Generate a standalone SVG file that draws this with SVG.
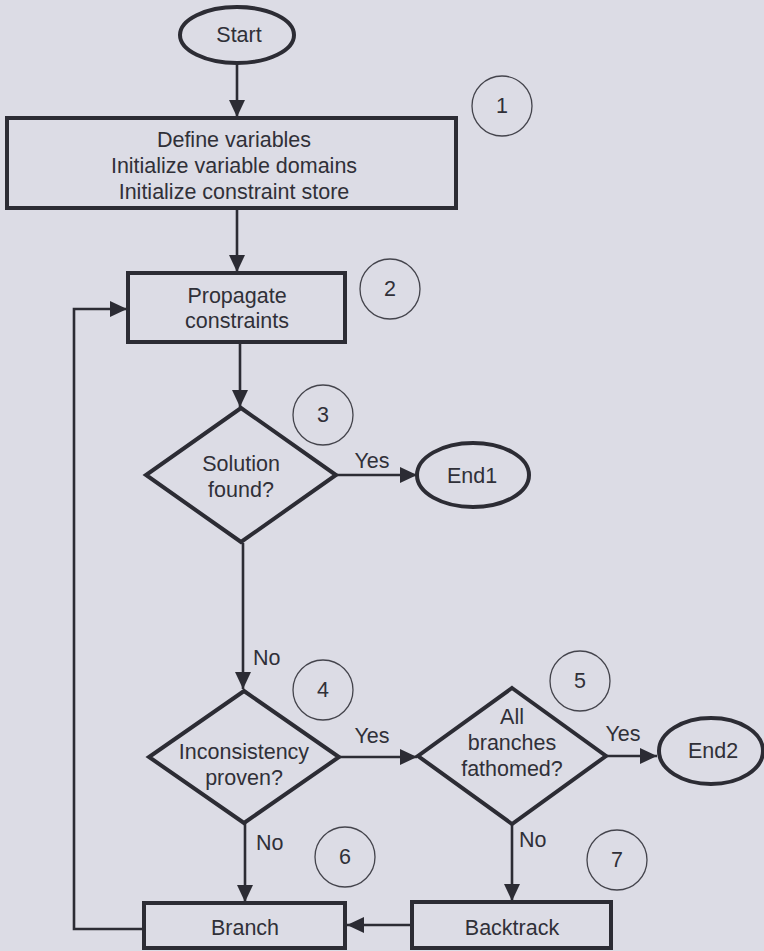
<svg xmlns="http://www.w3.org/2000/svg" width="764" height="951" viewBox="0 0 764 951">
<style>
.bg{fill:#dcdce5}
.n{fill:none;stroke:#2c2c34;stroke-width:4}
.c{fill:none;stroke:#2c2c34;stroke-width:2.6}
.ci{fill:none;stroke:#44444c;stroke-width:1.3}
text{font-family:"Liberation Sans",Arial,sans-serif;font-size:21.5px;fill:#303038;text-anchor:middle}
.l{text-anchor:start}
</style>
<defs>
<marker id="ah" markerUnits="userSpaceOnUse" markerWidth="18" markerHeight="18" refX="17" refY="8" orient="auto">
<path d="M0,0 L17,8 L0,16 Z" fill="#2c2c34"/>
</marker>
</defs>
<rect class="bg" x="0" y="0" width="764" height="951"/>
<g id="connectors">
<line class="c" x1="237" y1="63" x2="237" y2="117" marker-end="url(#ah)"/>
<line class="c" x1="237" y1="209" x2="237" y2="272" marker-end="url(#ah)"/>
<line class="c" x1="240" y1="343" x2="240" y2="407" marker-end="url(#ah)"/>
<line class="c" x1="336" y1="475" x2="417" y2="475" marker-end="url(#ah)"/>
<line class="c" x1="243" y1="543" x2="243" y2="689" marker-end="url(#ah)"/>
<line class="c" x1="339" y1="757" x2="417" y2="757" marker-end="url(#ah)"/>
<line class="c" x1="605" y1="756" x2="657" y2="756" marker-end="url(#ah)"/>
<line class="c" x1="245" y1="823" x2="245" y2="902" marker-end="url(#ah)"/>
<line class="c" x1="512" y1="824" x2="512" y2="901" marker-end="url(#ah)"/>
<line class="c" x1="412" y1="925" x2="347" y2="925" marker-end="url(#ah)"/>
<polyline class="c" points="144,929 74,929 74,309 127,309" marker-end="url(#ah)"/>
<text x="372" y="468">Yes</text>
<text class="l" x="253" y="665">No</text>
<text x="372" y="743">Yes</text>
<text x="623" y="741">Yes</text>
<text class="l" x="256" y="850">No</text>
<text class="l" x="519" y="847">No</text>
</g>
<g id="start">
<ellipse class="n" cx="237" cy="35" rx="57" ry="28"/>
<text x="239" y="42">Start</text>
</g>
<g id="init">
<rect class="n" x="7" y="118" width="449" height="90"/>
<text x="234" y="147">Define variables</text>
<text x="234" y="173">Initialize variable domains</text>
<text x="234" y="199">Initialize constraint store</text>
</g>
<g id="propagate">
<rect class="n" x="128" y="273" width="217" height="69"/>
<text x="237" y="303">Propagate</text>
<text x="237" y="328">constraints</text>
</g>
<g id="solution">
<polygon class="n" points="241,408 336,475 241,542 146,475"/>
<text x="241" y="471">Solution</text>
<text x="241" y="497">found?</text>
</g>
<g id="end1">
<ellipse class="n" cx="473" cy="475" rx="56" ry="32"/>
<text x="472" y="483">End1</text>
</g>
<g id="inconsistency">
<polygon class="n" points="244,691 339,757 244,823 149,757"/>
<text x="244" y="759">Inconsistency</text>
<text x="244" y="785">proven?</text>
</g>
<g id="fathomed">
<polygon class="n" points="512,688 606,756 512,824 418,756"/>
<text x="512" y="724">All</text>
<text x="512" y="750">branches</text>
<text x="512" y="776">fathomed?</text>
</g>
<g id="end2">
<ellipse class="n" cx="711" cy="751" rx="52" ry="33"/>
<text x="713" y="758">End2</text>
</g>
<g id="branch">
<rect class="n" x="144" y="903" width="201" height="45"/>
<text x="245" y="935">Branch</text>
</g>
<g id="backtrack">
<rect class="n" x="412" y="902" width="199" height="46"/>
<text x="512" y="935">Backtrack</text>
</g>
<g id="step1"><circle class="ci" cx="502" cy="106" r="30"/><text x="502" y="113">1</text></g>
<g id="step2"><circle class="ci" cx="390" cy="289" r="30"/><text x="390" y="296">2</text></g>
<g id="step3"><circle class="ci" cx="323" cy="415" r="30"/><text x="323" y="422">3</text></g>
<g id="step4"><circle class="ci" cx="323" cy="690" r="30"/><text x="323" y="697">4</text></g>
<g id="step5"><circle class="ci" cx="580" cy="681" r="30"/><text x="580" y="688">5</text></g>
<g id="step6"><circle class="ci" cx="345" cy="857" r="30"/><text x="345" y="864">6</text></g>
<g id="step7"><circle class="ci" cx="617" cy="860" r="30"/><text x="617" y="867">7</text></g>
</svg>
